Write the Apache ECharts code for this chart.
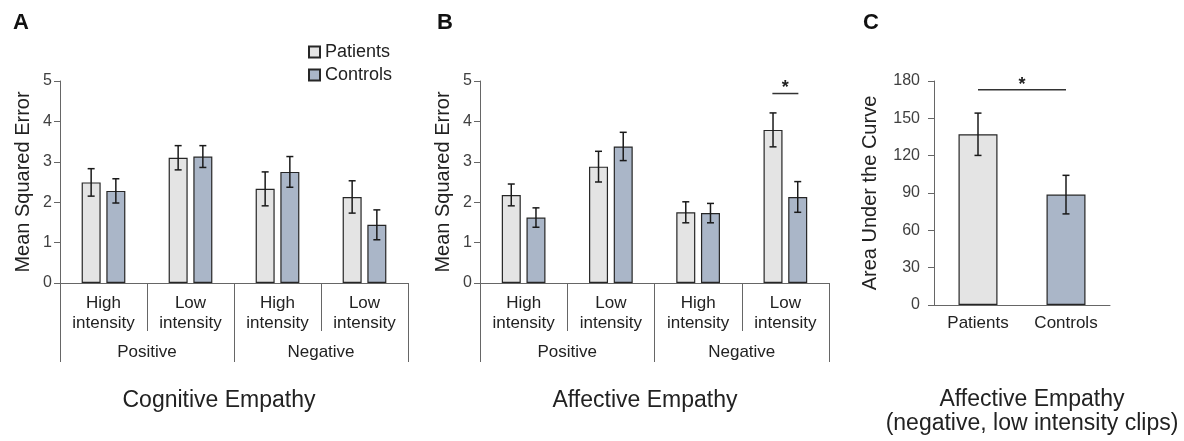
<!DOCTYPE html>
<html>
<head>
<meta charset="utf-8">
<script src="https://cdn.jsdelivr.net/npm/echarts@6/dist/echarts.min.js"></script>
<style>
  html, body { margin: 0; padding: 0; background: #ffffff; }
  #chart { width: 1184px; height: 441px; }
</style>
</head>
<body>
<div id="chart"></div>
<script>
// ---------- Data ----------
const subCategories = ['High\nintensity', 'Low\nintensity', 'High\nintensity', 'Low\nintensity'];
const groupCategories = ['Positive', 'Negative'];

const cogPatients    = [2.49, 3.10, 2.33, 2.13];
const cogPatientsErr = [0.34, 0.30, 0.42, 0.40];
const cogControls    = [2.28, 3.13, 2.75, 1.44];
const cogControlsErr = [0.30, 0.27, 0.38, 0.37];

const affPatients    = [2.18, 2.88, 1.75, 3.79];
const affPatientsErr = [0.27, 0.38, 0.26, 0.42];
const affControls    = [1.62, 3.38, 1.73, 2.13];
const affControlsErr = [0.24, 0.35, 0.24, 0.38];

const aucGroups = ['Patients', 'Controls'];
const aucValues = [137.2, 88.7];
const aucErr    = [17.0, 15.5];

const mseAxis = { min: 0, max: 5, interval: 1 };
const aucAxis = { min: 0, max: 180, interval: 30 };

const affSignificance = [[3, 3, 4.69]];   // [fromCategory, toCategory, level]
const aucSignificance = [[0, 1, 173]];

// ---------- Styles ----------
const FONT = "'Liberation Sans', Arial, sans-serif";
const PATIENT_COLOR = '#e4e4e4';
const CONTROL_COLOR = '#aab6c8';
const BORDER = '#262626';
const AXIS_COLOR = '#666666';
const TEXT = '#222222';
const TICK_TEXT = '#404040';
const BAR_W = 19;
const BAR_GAP = 0.30;
const OFFSET = BAR_W * (1 + BAR_GAP) / 2;

function errorRenderer(offset) {
  return function (params, api) {
    const c = api.value(0), v = api.value(1), e = api.value(2);
    const top = api.coord([c, v + e]);
    const bot = api.coord([c, v - e]);
    const x = top[0] + offset;
    const cap = 3.5;
    const st = { stroke: '#1a1a1a', lineWidth: 1.5 };
    return {
      type: 'group',
      children: [
        { type: 'line', shape: { x1: x, y1: top[1], x2: x, y2: bot[1] }, style: st },
        { type: 'line', shape: { x1: x - cap, y1: top[1], x2: x + cap, y2: top[1] }, style: st },
        { type: 'line', shape: { x1: x - cap, y1: bot[1], x2: x + cap, y2: bot[1] }, style: st }
      ]
    };
  };
}

function sigRenderer(ext) {
  return function (params, api) {
    const p1 = api.coord([api.value(0), api.value(2)]);
    const p2 = api.coord([api.value(1), api.value(2)]);
    const x1 = p1[0] - ext, x2 = p2[0] + ext, y = p1[1];
    return {
      type: 'group',
      children: [
        { type: 'line', shape: { x1: x1, y1: y, x2: x2, y2: y }, style: { stroke: '#333', lineWidth: 1.5 } },
        { type: 'text', x: (x1 + x2) / 2, y: y - 5,
          style: { text: '*', fontSize: 18, fontWeight: 'bold', fontFamily: FONT, fill: TEXT, align: 'center', verticalAlign: 'middle' } }
      ]
    };
  };
}

function errData(vals, errs) { return vals.map((v, i) => [i, v, errs[i]]); }

function subAxis(gridIndex) {
  return {
    type: 'category', gridIndex: gridIndex, data: subCategories, position: 'bottom',
    axisLine: { show: true, lineStyle: { color: AXIS_COLOR, width: 1 } },
    axisTick: { show: true, interval: 0, length: 48, lineStyle: { color: AXIS_COLOR, width: 1 } },
    axisLabel: { interval: 0, margin: 10, fontSize: 17, lineHeight: 20, color: TEXT, fontFamily: FONT }
  };
}
function groupAxis(gridIndex) {
  return {
    type: 'category', gridIndex: gridIndex, data: groupCategories, position: 'bottom',
    axisLine: { show: false },
    axisTick: { show: true, interval: 0, length: 79, lineStyle: { color: AXIS_COLOR, width: 1 } },
    axisLabel: { interval: 0, margin: 59, fontSize: 17, lineHeight: 20, color: TEXT, fontFamily: FONT }
  };
}
function mseYAxis(gridIndex) {
  return {
    type: 'value', gridIndex: gridIndex, min: mseAxis.min, max: mseAxis.max, interval: mseAxis.interval,
    name: 'Mean Squared Error', nameLocation: 'middle', nameGap: 27,
    nameTextStyle: { fontSize: 20, color: TEXT, fontFamily: FONT },
    axisLine: { show: true, lineStyle: { color: AXIS_COLOR, width: 1 } },
    axisTick: { show: true, length: 6, lineStyle: { color: AXIS_COLOR } },
    axisLabel: { margin: 8, fontSize: 16, color: TICK_TEXT, fontFamily: FONT },
    splitLine: { show: false }
  };
}

const barStyle = (color) => ({ color: color, borderColor: BORDER, borderWidth: 1.2 });

const option = {
  animation: false,
  backgroundColor: '#ffffff',
  textStyle: { fontFamily: FONT },
  legend: {
    data: ['Patients', 'Controls'],
    orient: 'vertical', left: 308, top: 42, padding: 0,
    itemWidth: 11, itemHeight: 11, itemGap: 3,
    icon: 'rect',
    textStyle: { fontSize: 18, lineHeight: 20, color: TEXT, fontFamily: FONT },
    selectedMode: false
  },
  grid: [
    { left: 60, top: 81, width: 348, height: 202 },
    { left: 480, top: 81, width: 349, height: 202 },
    { left: 934, top: 81, width: 176, height: 224 }
  ],
  xAxis: [
    subAxis(0), groupAxis(0),
    subAxis(1), groupAxis(1),
    {
      type: 'category', gridIndex: 2, data: aucGroups,
      axisLine: { show: true, lineStyle: { color: AXIS_COLOR, width: 1 } },
      axisTick: { show: false },
      axisLabel: { margin: 10, fontSize: 17, color: TEXT, fontFamily: FONT }
    }
  ],
  yAxis: [
    mseYAxis(0),
    mseYAxis(1),
    {
      type: 'value', gridIndex: 2, min: aucAxis.min, max: aucAxis.max, interval: aucAxis.interval,
      name: 'Area Under the Curve', nameLocation: 'middle', nameGap: 54,
      nameTextStyle: { fontSize: 20, color: TEXT, fontFamily: FONT },
      axisLine: { show: true, lineStyle: { color: AXIS_COLOR, width: 1 } },
      axisTick: { show: true, length: 6, lineStyle: { color: AXIS_COLOR } },
      axisLabel: { margin: 14, fontSize: 16, color: TICK_TEXT, fontFamily: FONT },
      splitLine: { show: false }
    }
  ],
  series: [
    // Panel A
    { name: 'Patients', type: 'bar', xAxisIndex: 0, yAxisIndex: 0, data: cogPatients,
      barWidth: BAR_W, itemStyle: barStyle(PATIENT_COLOR) },
    { name: 'Controls', type: 'bar', xAxisIndex: 0, yAxisIndex: 0, data: cogControls,
      barWidth: BAR_W, barGap: (BAR_GAP * 100) + '%', itemStyle: barStyle(CONTROL_COLOR) },
    { type: 'custom', xAxisIndex: 0, yAxisIndex: 0, z: 5, renderItem: errorRenderer(-OFFSET),
      data: errData(cogPatients, cogPatientsErr) },
    { type: 'custom', xAxisIndex: 0, yAxisIndex: 0, z: 5, renderItem: errorRenderer(OFFSET),
      data: errData(cogControls, cogControlsErr) },
    // Panel B
    { name: 'Patients', type: 'bar', xAxisIndex: 2, yAxisIndex: 1, data: affPatients,
      barWidth: BAR_W, itemStyle: barStyle(PATIENT_COLOR) },
    { name: 'Controls', type: 'bar', xAxisIndex: 2, yAxisIndex: 1, data: affControls,
      barWidth: BAR_W, barGap: (BAR_GAP * 100) + '%', itemStyle: barStyle(CONTROL_COLOR) },
    { type: 'custom', xAxisIndex: 2, yAxisIndex: 1, z: 5, renderItem: errorRenderer(-OFFSET),
      data: errData(affPatients, affPatientsErr) },
    { type: 'custom', xAxisIndex: 2, yAxisIndex: 1, z: 5, renderItem: errorRenderer(OFFSET),
      data: errData(affControls, affControlsErr) },
    { type: 'custom', xAxisIndex: 2, yAxisIndex: 1, z: 5, renderItem: sigRenderer(13),
      data: affSignificance },
    // Panel C
    { name: 'Patients', type: 'bar', xAxisIndex: 4, yAxisIndex: 2,
      data: aucValues.map((v, i) => (i === 0 ? v : '-')),
      barWidth: 39, itemStyle: barStyle(PATIENT_COLOR) },
    { name: 'Controls', type: 'bar', xAxisIndex: 4, yAxisIndex: 2,
      data: aucValues.map((v, i) => (i === 1 ? v : '-')),
      barWidth: 39, barGap: '-100%', itemStyle: barStyle(CONTROL_COLOR) },
    { type: 'custom', xAxisIndex: 4, yAxisIndex: 2, z: 5, renderItem: errorRenderer(0),
      data: errData(aucValues, aucErr) },
    { type: 'custom', xAxisIndex: 4, yAxisIndex: 2, z: 5, renderItem: sigRenderer(0),
      data: aucSignificance }
  ],
  graphic: [
    { type: 'text', x: 13, y: 22.5, style: { text: 'A', fontSize: 22, fontWeight: 'bold', fontFamily: FONT, fill: '#111', verticalAlign: 'middle' } },
    { type: 'text', x: 437, y: 22.5, style: { text: 'B', fontSize: 22, fontWeight: 'bold', fontFamily: FONT, fill: '#111', verticalAlign: 'middle' } },
    { type: 'text', x: 863, y: 22.5, style: { text: 'C', fontSize: 22, fontWeight: 'bold', fontFamily: FONT, fill: '#111', verticalAlign: 'middle' } },
    { type: 'text', x: 219, y: 401, style: { text: 'Cognitive Empathy', fontSize: 23, fontFamily: FONT, fill: TEXT, align: 'center', verticalAlign: 'middle' } },
    { type: 'text', x: 645, y: 401, style: { text: 'Affective Empathy', fontSize: 23, fontFamily: FONT, fill: TEXT, align: 'center', verticalAlign: 'middle' } },
    { type: 'text', x: 1032, y: 400, style: { text: 'Affective Empathy', fontSize: 23, fontFamily: FONT, fill: TEXT, align: 'center', verticalAlign: 'middle' } },
    { type: 'text', x: 1032, y: 424, style: { text: '(negative, low intensity clips)', fontSize: 23, fontFamily: FONT, fill: TEXT, align: 'center', verticalAlign: 'middle' } }
  ]
};

const chart = echarts.init(document.getElementById('chart'), null, { renderer: 'canvas' });
chart.setOption(option);
</script>
</body>
</html>
